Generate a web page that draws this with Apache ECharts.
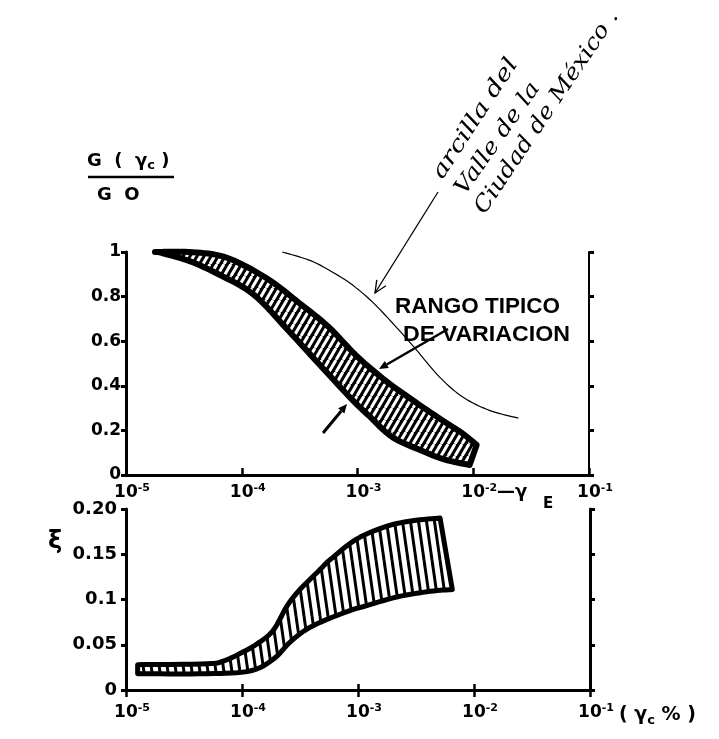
<!DOCTYPE html>
<html><head><meta charset="utf-8">
<script src="https://cdn.jsdelivr.net/npm/echarts@6/dist/echarts.min.js"></script>
<style>html,body{margin:0;padding:0;background:#fff}#c{width:719px;height:739px}</style>
</head><body><div id="c"></div>
<script>
// ---------------- data ----------------
const xTickExp = ['-5', '-4', '-3', '-2', '-1'];
const gTickVals = [0, 0.2, 0.4, 0.6, 0.8, 1];
const gTickLabels = ['0', '0.2', '0.4', '0.6', '0.8', '1'];
const dTickVals = [0, 0.05, 0.1, 0.15, 0.2];
const dTickLabels = ['0', '0.05', '0.1', '0.15', '0.20'];

// G/G0 typical range band: upper boundary (strain %, G/G0)
const gUpperX = [1.78e-5, 3.5e-5, 6.3e-5, 1.0e-4, 1.78e-4, 3.16e-4, 5.6e-4, 1.0e-3, 1.78e-3, 3.16e-3, 5.6e-3, 7.9e-3, 1.07e-2];
const gUpperY = [1.0, 1.0, 0.985, 0.945, 0.87, 0.77, 0.665, 0.53, 0.42, 0.327, 0.24, 0.19, 0.135];
// lower boundary
const gLowerX = [1.9e-5, 3.5e-5, 6.3e-5, 1.26e-4, 2.5e-4, 5.0e-4, 8.9e-4, 1.26e-3, 2.0e-3, 3.55e-3, 5.6e-3, 9.3e-3];
const gLowerY = [1.0, 0.96, 0.90, 0.81, 0.65, 0.48, 0.34, 0.265, 0.17, 0.11, 0.07, 0.045];

// Mexico City valley clay curve
const clayX = [2.24e-4, 3.98e-4, 6.3e-4, 8.9e-4, 1.35e-3, 2.19e-3, 3.24e-3, 5.1e-3, 8.1e-3, 1.38e-2, 2.45e-2];
const clayY = [1.0, 0.96, 0.905, 0.855, 0.775, 0.66, 0.56, 0.44, 0.35, 0.29, 0.255];

// damping band: upper boundary
const dUpperX = [1.26e-5, 5.0e-5, 6.9e-5, 9.5e-5, 1.35e-4, 1.86e-4, 2.45e-4, 3.16e-4, 4.7e-4, 5.75e-4, 9.8e-4, 1.78e-3, 2.95e-3, 5.1e-3];
const dUpperY = [0.028, 0.029, 0.032, 0.040, 0.051, 0.066, 0.093, 0.111, 0.133, 0.144, 0.167, 0.181, 0.187, 0.190];
// damping band: lower boundary
const dLowerX = [1.26e-5, 5.0e-5, 1.17e-4, 1.86e-4, 2.6e-4, 3.6e-4, 5.4e-4, 9.1e-4, 1.1e-3, 2.2e-3, 4.2e-3, 6.5e-3];
const dLowerY = [0.018, 0.018, 0.021, 0.034, 0.053, 0.067, 0.078, 0.089, 0.092, 0.103, 0.109, 0.111];

// ---------------- helpers ----------------
function stripes(W, H, bg, fg, lw, slash) {
  const c = document.createElement('canvas');
  c.width = W; c.height = H;
  const g = c.getContext('2d');
  g.fillStyle = bg; g.fillRect(0, 0, W, H);
  g.strokeStyle = fg; g.lineWidth = lw;
  for (let k = -1; k <= 1; k++) {
    g.beginPath();
    if (slash) { g.moveTo(k * W, H); g.lineTo(k * W + W, 0); }
    else { g.moveTo(k * W, 0); g.lineTo(k * W + W, H); }
    g.stroke();
  }
  return c;
}
const topPattern = { image: stripes(7, 12, '#000', '#fff', 3, true), repeat: 'repeat' };
const botPattern = { image: stripes(8, 56, '#fff', '#000', 3, false), repeat: 'repeat' };

// Catmull-Rom smoothing of already-projected pixel points (rendering only)
function spline(p, n) {
  const out = [];
  for (let i = 0; i < p.length - 1; i++) {
    const p0 = p[Math.max(i - 1, 0)], p1 = p[i], p2 = p[i + 1], p3 = p[Math.min(i + 2, p.length - 1)];
    for (let s = 0; s < n; s++) {
      const t = s / n, t2 = t * t, t3 = t2 * t;
      const f = (a, b, c, d) => 0.5 * ((2 * b) + (-a + c) * t + (2 * a - 5 * b + 4 * c - d) * t2 + (-a + 3 * b - 3 * c + d) * t3);
      out.push([f(p0[0], p1[0], p2[0], p3[0]), f(p0[1], p1[1], p2[1], p3[1])]);
    }
  }
  out.push(p[p.length - 1]);
  return out;
}

function bandSeries(ux, uy, lx, ly, idx, pattern, lw) {
  return {
    type: 'custom', coordinateSystem: 'cartesian2d', xAxisIndex: idx, yAxisIndex: idx,
    data: [[ux[0], uy[0]]], silent: true, z: 3,
    renderItem: function (params, api) {
      const up = [], lo = [];
      for (let i = 0; i < ux.length; i++) up.push(api.coord([ux[i], uy[i]]));
      for (let i = 0; i < lx.length; i++) lo.push(api.coord([lx[i], ly[i]]));
      const pts = spline(up, 8).concat(spline(lo, 8).reverse());
      return {
        type: 'polygon', shape: { points: pts },
        style: { fill: pattern, stroke: '#000', lineWidth: lw, lineJoin: 'round' }
      };
    }
  };
}
function curveSeries(xs, ys, idx, lw) {
  return {
    type: 'custom', coordinateSystem: 'cartesian2d', xAxisIndex: idx, yAxisIndex: idx,
    data: [[xs[0], ys[0]]], silent: true, z: 4,
    renderItem: function (params, api) {
      const p = [];
      for (let i = 0; i < xs.length; i++) p.push(api.coord([xs[i], ys[i]]));
      return { type: 'polyline', shape: { points: spline(p, 10) }, style: { stroke: '#000', lineWidth: lw, fill: null } };
    }
  };
}

const FONT = 'DejaVu Sans';
const axisLine = { show: true, lineStyle: { color: '#000', width: 3 } };
function xLabelFmt(v) {
  const e = Math.round(Math.log10(v));
  const i = e + 5;
  return '{b|10}{s|' + (xTickExp[i] !== undefined ? xTickExp[i] : e) + '}';
}
const xRich = {
  b: { fontSize: 17, fontWeight: 'bold', fontFamily: FONT, color: '#000', lineHeight: 20 },
  s: { fontSize: 11, fontWeight: 'bold', fontFamily: FONT, color: '#000', verticalAlign: 'top', lineHeight: 11 }
};
function lab(vals, labels) {
  return function (v) {
    let best = 0;
    for (let i = 0; i < vals.length; i++) if (Math.abs(vals[i] - v) < Math.abs(vals[best] - v)) best = i;
    return labels[best];
  };
}
function xAxisDef(grid, pos, opts) {
  return Object.assign({
    gridIndex: grid, type: 'log', logBase: 10, min: 1e-5, max: 1e-1, position: pos,
    axisLine: axisLine, splitLine: { show: false }, minorTick: { show: false }, minorSplitLine: { show: false }
  }, opts);
}

const fitCtx = document.createElement('canvas').getContext('2d');
function fit(text, font, target) {
  fitCtx.font = font;
  return target / fitCtx.measureText(text).width;
}
function arrow(x1, y1, x2, y2, lw, head, filled) {
  const a = Math.atan2(y2 - y1, x2 - x1);
  const w = head * 0.45;
  const bx = x2 - head * Math.cos(a), by = y2 - head * Math.sin(a);
  const p1 = [bx + w * Math.sin(a), by - w * Math.cos(a)];
  const p2 = [bx - w * Math.sin(a), by + w * Math.cos(a)];
  const out = [{ type: 'line', shape: { x1: x1, y1: y1, x2: filled ? bx : x2, y2: filled ? by : y2 }, style: { stroke: '#000', lineWidth: lw } }];
  if (filled) out.push({ type: 'polygon', shape: { points: [p1, [x2, y2], p2] }, style: { fill: '#000' } });
  else out.push({ type: 'polyline', shape: { points: [p1, [x2, y2], p2] }, style: { stroke: '#000', lineWidth: lw, fill: null } });
  return out;
}

const hand = 'italic 22px "DejaVu Serif"';
const rangoFont = 'bold 22px "Liberation Sans"';
const deg = Math.PI / 180;

const graphics = [
  { type: 'text', x: 87, y: 150, style: { text: '{a|G  (  γ}{s|c}{a| )}', rich: {
      a: { font: 'bold 18px "DejaVu Sans"', fill: '#000', lineHeight: 22 },
      s: { font: 'bold 13px "DejaVu Sans"', fill: '#000', verticalAlign: 'bottom', lineHeight: 16 } } } },
  { type: 'line', shape: { x1: 88, y1: 177, x2: 174, y2: 177 }, style: { stroke: '#000', lineWidth: 2.5 } },
  { type: 'text', x: 97, y: 186, style: { text: 'G  O', font: 'bold 18px "DejaVu Sans"', fill: '#000' } },
  { type: 'text', x: 48, y: 530, style: { text: 'ξ', font: 'bold 24px "DejaVu Sans"', fill: '#000' } },
  { type: 'text', x: 395, y: 296, scaleX: fit('RANGO TIPICO', rangoFont, 165), style: { text: 'RANGO TIPICO', font: rangoFont, fill: '#000' } },
  { type: 'text', x: 403, y: 324, scaleX: fit('DE VARIACION', rangoFont, 167), style: { text: 'DE VARIACION', font: rangoFont, fill: '#000' } },
  { type: 'text', x: 497, y: 483, style: { text: '—γ', font: 'bold 18px "DejaVu Sans"', fill: '#000' } },
  { type: 'text', x: 543, y: 497, style: { text: 'E', font: 'bold 15px "DejaVu Sans"', fill: '#000' } },
  { type: 'text', x: 619, y: 703, style: { text: '{a|( γ}{s|c}{a| % )}', rich: {
      a: { font: 'bold 19px "DejaVu Sans"', fill: '#000', lineHeight: 24 },
      s: { font: 'bold 13px "DejaVu Sans"', fill: '#000', verticalAlign: 'bottom', lineHeight: 16 } } } },
  { type: 'text', x: 447, y: 183, rotation: 57 * deg, scaleX: fit('arcilla del', hand, 139),
    style: { text: 'arcilla del', font: hand, fill: '#000', verticalAlign: 'bottom' } },
  { type: 'text', x: 469, y: 199, rotation: 55 * deg, scaleX: fit('Valle de la', hand, 132),
    style: { text: 'Valle de la', font: hand, fill: '#000', verticalAlign: 'bottom' } },
  { type: 'text', x: 489, y: 218, rotation: 56 * deg, scaleX: fit('Ciudad de México .', hand, 240),
    style: { text: 'Ciudad de México .', font: hand, fill: '#000', verticalAlign: 'bottom' } }
].concat(
  arrow(438, 192, 375, 293, 1.3, 12, false),
  arrow(448, 329, 379, 369, 2.5, 9, true),
  arrow(323, 433, 347, 404, 3, 9, true)
);

const option = {
  animation: false,
  backgroundColor: '#fff',
  grid: [
    { left: 126, top: 252, width: 463, height: 223, containLabel: false },
    { left: 126, top: 509, width: 464, height: 181, containLabel: false }
  ],
  xAxis: [
    xAxisDef(0, 'bottom', { axisTick: { show: true, inside: true, length: 7, lineStyle: { color: '#000', width: 2.5 } },
      axisLabel: { formatter: xLabelFmt, rich: xRich, margin: 8, padding: [0, 0, 0, 12], showMinLabel: true, showMaxLabel: true } }),
    xAxisDef(0, 'top', { axisTick: { show: false }, axisLabel: { show: false } }),
    xAxisDef(1, 'bottom', { axisTick: { show: true, inside: true, length: 6, lineStyle: { color: '#000', width: 2.5 } },
      axisLabel: { formatter: xLabelFmt, rich: xRich, margin: 13, padding: [0, 0, 0, 12], showMinLabel: true, showMaxLabel: true } }),
    xAxisDef(1, 'top', { axisTick: { show: true, inside: true, length: 7, lineStyle: { color: '#000', width: 2.5 } }, axisLabel: { show: false } })
  ],
  yAxis: [
    { gridIndex: 0, type: 'value', min: 0, max: 1, interval: 0.2, position: 'left', axisLine: axisLine,
      axisTick: { show: true, length: 5, lineStyle: { color: '#000', width: 3 } }, splitLine: { show: false },
      axisLabel: { formatter: lab(gTickVals, gTickLabels), margin: 5, fontSize: 17, fontWeight: 'bold', fontFamily: FONT, color: '#000' } },
    { gridIndex: 0, type: 'value', min: 0, max: 1, interval: 0.2, position: 'right',
      axisLine: { show: true, lineStyle: { color: '#000', width: 2 } },
      axisTick: { show: true, length: 5, lineStyle: { color: '#000', width: 3 } }, splitLine: { show: false }, axisLabel: { show: false } },
    { gridIndex: 1, type: 'value', min: 0, max: 0.2, interval: 0.05, position: 'left', axisLine: axisLine,
      axisTick: { show: true, length: 5, lineStyle: { color: '#000', width: 3 } }, splitLine: { show: false },
      axisLabel: { formatter: lab(dTickVals, dTickLabels), margin: 9, fontSize: 18, fontWeight: 'bold', fontFamily: FONT, color: '#000' } },
    { gridIndex: 1, type: 'value', min: 0, max: 0.2, interval: 0.05, position: 'right', axisLine: axisLine,
      axisTick: { show: true, length: 5, lineStyle: { color: '#000', width: 3 } }, splitLine: { show: false }, axisLabel: { show: false } }
  ],
  series: [
    bandSeries(gUpperX, gUpperY, gLowerX, gLowerY, 0, topPattern, 6),
    curveSeries(clayX, clayY, 0, 1.2),
    bandSeries(dUpperX, dUpperY, dLowerX, dLowerY, 2, botPattern, 5)
  ],
  graphic: graphics
};

const chart = echarts.init(document.getElementById('c'), null, { renderer: 'canvas' });
chart.setOption(option);
</script></body></html>
